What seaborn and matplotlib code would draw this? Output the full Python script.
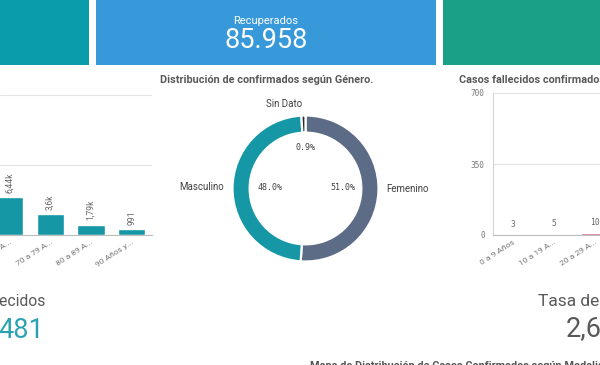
import matplotlib
matplotlib.use("Agg")
import matplotlib.pyplot as plt
import seaborn as sns
import pandas as pd
from matplotlib.patches import Rectangle

# --- data ---
kpi_top_label = "Recuperados"
kpi_top_value = "85.958"

edad_conf_cats = ["60 a 69 A...", "70 a 79 A...", "80 a 89 A...", "90 Años y..."]
edad_conf_vals = [6440, 3600, 1790, 991]
edad_conf_txt = ["6,44k", "3,6k", "1,79k", "991"]

genero_cats = ["Femenino", "Masculino", "Sin Dato"]
genero_pct = [51.0, 48.0, 0.9]

fall_cats = ["0 a 9 Años", "10 a 19 A...", "20 a 29 A..."]
fall_vals = [3, 5, 10]

TEAL = "#1597a6"
GREY_TXT = "#595959"

sns.set_theme(style="white")
plt.rcParams["font.family"] = ["Roboto", "DejaVu Sans"]

W, H = 600, 365
fig = plt.figure(figsize=(W / 100, H / 100), dpi=100)


def px(x0, y0, x1, y1):
    return [x0 / W, 1 - y1 / H, (x1 - x0) / W, (y1 - y0) / H]


# background layer in pixel coordinates
bg = fig.add_axes([0, 0, 1, 1], zorder=0)
bg.set_xlim(0, W)
bg.set_ylim(H, 0)
bg.axis("off")
bg.add_patch(Rectangle((0, 0), 89, 65, color="#0b9cab", lw=0))
bg.add_patch(Rectangle((96, 0), 340, 65, color="#3799da", lw=0))
bg.add_patch(Rectangle((443, 0), 157, 65, color="#19a086", lw=0))
bg.text(266, 21, kpi_top_label, color="white", fontsize=8, ha="center", va="center")
bg.text(266, 41, kpi_top_value, color="white", fontsize=19.5, ha="center", va="center")

# titles
bg.text(160, 80, "Distribución de confirmados según Género.", color=GREY_TXT,
        fontsize=7.8, fontweight="bold", ha="left", va="center")
bg.text(459, 80, "Casos fallecidos confirmados según Edad", color=GREY_TXT,
        fontsize=7.8, fontweight="bold", ha="left", va="center")

# bottom KPIs
bg.text(46, 302, "Fallecidos", color=GREY_TXT, fontsize=11.3, ha="right", va="center")
bg.text(44, 330, "481", color="#2aa3b0", fontsize=19.5, ha="right", va="center")
bg.text(538, 302, "Tasa de Letalidad", color=GREY_TXT, fontsize=12.5, ha="left", va="center")
bg.text(566, 329, "2,6%", color=GREY_TXT, fontsize=19.5, ha="left", va="center")
bg.text(310, 361, "Mapa de Distribución de Casos Confirmados según Modalidad", color="#555555",
        fontsize=7.8, fontweight="bold", ha="left", va="top")

# --- left bar chart (confirmados por edad) ---
ax1 = fig.add_axes(px(0, 94, 152, 235), zorder=2)
ax1.set_facecolor("none")
df1 = pd.DataFrame({"Edad": edad_conf_cats, "Casos": edad_conf_vals})
sns.barplot(data=df1, x="Edad", y="Casos", color=TEAL, saturation=1, width=0.67, ax=ax1)
ax1.set_xlim(-0.235, 3.5)
ax1.set_ylim(0, 24000 * 141 / 140)
ax1.set_yticks([0, 12000, 24000])
ax1.yaxis.grid(True, color="#e3e3e3", lw=0.8)
ax1.set_axisbelow(True)
ax1.tick_params(axis="y", left=False, labelleft=False)
for s in ["top", "right", "left"]:
    ax1.spines[s].set_visible(False)
ax1.spines["bottom"].set_color("#bdbdbd")
ax1.spines["bottom"].set_linewidth(0.8)
ax1.set_xlabel("")
ax1.set_ylabel("")
ax1.set_xticks(range(len(edad_conf_cats)))
ax1.set_xticklabels(edad_conf_cats, rotation=33, ha="right", rotation_mode="anchor",
                    fontsize=6, color="#777777")
ax1.tick_params(axis="x", length=0, pad=3)
ax1.bar_label(ax1.containers[0], labels=edad_conf_txt, rotation=90, padding=3,
              fontsize=6.2, color="#666666")

# --- donut (género) ---
ax2 = fig.add_axes(px(232.5, 115.5, 378.5, 261.5), zorder=2)
ax2.set_facecolor("none")
ax2.pie(genero_pct, colors=["#5c6b86", TEAL, "#2b2b2b"], startangle=90, counterclock=False,
        radius=1, wedgeprops=dict(width=0.235, edgecolor="white", linewidth=1.6))
ax2.set_xlim(-1, 1)
ax2.set_ylim(-1, 1)
ax2.axis("off")

mono = ["DejaVu Sans Mono"]
bg.text(284, 104, "Sin Dato", color="#404040", fontsize=7, ha="center", va="center")
bg.text(305, 147, f"{genero_pct[2]:.1f}%", color="#404040", fontsize=6, family=mono,
        ha="center", va="center")
bg.text(224, 187, "Masculino", color="#404040", fontsize=7, ha="right", va="center")
bg.text(270, 187, f"{genero_pct[1]:.1f}%", color="#404040", fontsize=6, family=mono,
        ha="center", va="center")
bg.text(343, 187, f"{genero_pct[0]:.1f}%", color="#404040", fontsize=6, family=mono,
        ha="center", va="center")
bg.text(386, 189, "Femenino", color="#404040", fontsize=7, ha="left", va="center")

# --- right bar chart (fallecidos por edad) ---
ax3 = fig.add_axes(px(493, 93, 600, 235), zorder=2)
ax3.set_facecolor("none")
df3 = pd.DataFrame({"Edad": fall_cats, "Fallecidos": fall_vals})
sns.barplot(data=df3, x="Edad", y="Fallecidos", color="#cc4a70", saturation=1, width=0.68, ax=ax3)
ax3.set_xlim(-0.49, 2.12)
ax3.set_ylim(0, 700)
ax3.set_yticks([0, 350, 700])
ax3.set_yticklabels(["0", "350", "700"], fontsize=5.6, color="#777777", family=mono)
ax3.yaxis.grid(True, color="#e3e3e3", lw=0.8)
ax3.set_axisbelow(True)
ax3.tick_params(axis="y", length=4, color="#cccccc", pad=2)
for s in ["top", "right"]:
    ax3.spines[s].set_visible(False)
ax3.spines["left"].set_color("#d5d5d5")
ax3.spines["left"].set_linewidth(0.8)
ax3.spines["bottom"].set_color("#bdbdbd")
ax3.spines["bottom"].set_linewidth(0.8)
ax3.set_xlabel("")
ax3.set_ylabel("")
ax3.set_xticks(range(len(fall_cats)))
ax3.set_xticklabels(fall_cats, rotation=33, ha="right", rotation_mode="anchor",
                    fontsize=6, color="#777777")
ax3.tick_params(axis="x", length=0, pad=3)
for t in ax3.bar_label(ax3.containers[0], labels=[str(v) for v in fall_vals], padding=4,
                       fontsize=5.8, color="#666666", family=mono):
    t.set_clip_on(False)

fig.savefig("out.png", dpi=100)
